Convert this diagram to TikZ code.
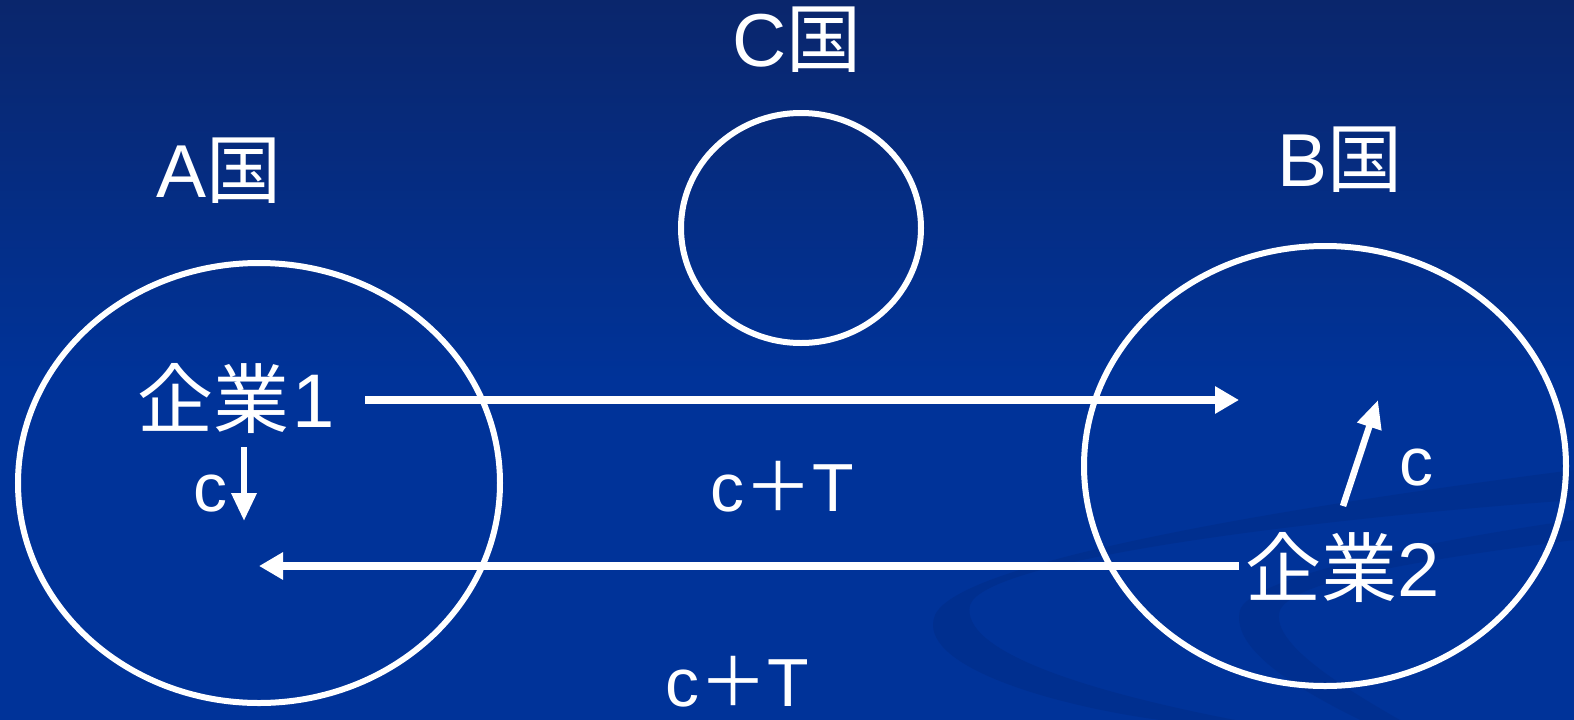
\documentclass[tikz,border=0pt]{standalone}
\usepackage{fontspec}
\setmainfont{Liberation Sans}
\newfontfamily\jp{Noto Sans CJK JP}
\usetikzlibrary{arrows.meta,shapes.geometric}
\definecolor{bgtop}{RGB}{10,38,108}
\definecolor{bgmain}{RGB}{0,51,153}
\definecolor{swoosh}{RGB}{0,40,125}
\tikzset{
  ring/.style={draw=white, line width=6pt},
  lbl/.style={text=white, inner sep=0pt, font=\fontsize{75}{80}\selectfont},
  big/.style={text=white, inner sep=0pt, font=\fontsize{76}{84}\selectfont},
  mid/.style={text=white, inner sep=0pt, font=\fontsize{68}{72}\selectfont},
  flow/.style={draw=white, line width=8pt, -{Triangle[length=24pt,width=26pt]}},
  cost/.style={draw=white, line width=6.5pt, -{Triangle[length=28pt,width=24pt]}}
}
\begin{document}
\begin{tikzpicture}[x=1pt,y=-1pt]
\useasboundingbox (0,0) rectangle (1574,720);
\fill[bgmain] (0,0) rectangle (1574,720);
\shade[top color=bgtop, bottom color=bgmain] (0,0) rectangle (1574,380);
% background swooshes
\fill[swoosh, opacity=0.35] (1574,470) .. controls (1300,505) and (960,560) .. (935,615)
  .. controls (915,665) and (1050,705) .. (1160,720) -- (1235,720)
  .. controls (1080,690) and (960,650) .. (970,605)
  .. controls (985,560) and (1300,520) .. (1574,500) -- cycle;
\fill[swoosh, opacity=0.3] (1574,520) .. controls (1400,545) and (1250,580) .. (1240,610)
  .. controls (1230,650) and (1300,690) .. (1360,720) -- (1400,720)
  .. controls (1330,680) and (1270,640) .. (1280,610)
  .. controls (1295,580) and (1420,560) .. (1574,540) -- cycle;
% countries
\node[ring, ellipse, inner sep=0pt, minimum width=482pt, minimum height=440pt] (A) at (259,483) {};
\node[ring, ellipse, inner sep=0pt, minimum width=240pt, minimum height=230pt] (C) at (801,228) {};
\node[ring, ellipse, inner sep=0pt, minimum width=482pt, minimum height=440pt] (B) at (1325,466) {};
\node[lbl] (Alab) at (219,171) {A{\jp 国}};
\node[lbl] (Clab) at (797,40) {C{\jp 国}};
\node[lbl] (Blab) at (1340,160) {B{\jp 国}};
% firms
\node[big] (f1) at (236,399) {{\jp 企業}\hspace{3pt}1};
\node[big, anchor=west] (f2) at (1245,567) {{\jp 企業}2};
% flows
\coordinate (a1s) at (365,400);
\coordinate (a1e) at (1239,400);
\draw[flow] (a1s) -- (a1e);
\coordinate (a2s) at (1239,566);
\coordinate (a2e) at (259,566);
\draw[flow] (a2s) -- (a2e);
\node[mid] (cT1) at (782,487) {c{\jp ＋}T};
\node[mid] (cT2) at (737,682) {c{\jp ＋}T};
% costs
\coordinate (d1s) at (244,447);
\coordinate (d1e) at (244,521);
\draw[cost] (d1s) -- (d1e);
\node[mid] (c1) at (210,494) {c};
\coordinate (d2s) at (1343,506);
\coordinate (d2e) at (1378,400);
\draw[cost] (d2s) -- (d2e);
\node[mid] (c2) at (1416,468) {c};
\end{tikzpicture}
\end{document}
